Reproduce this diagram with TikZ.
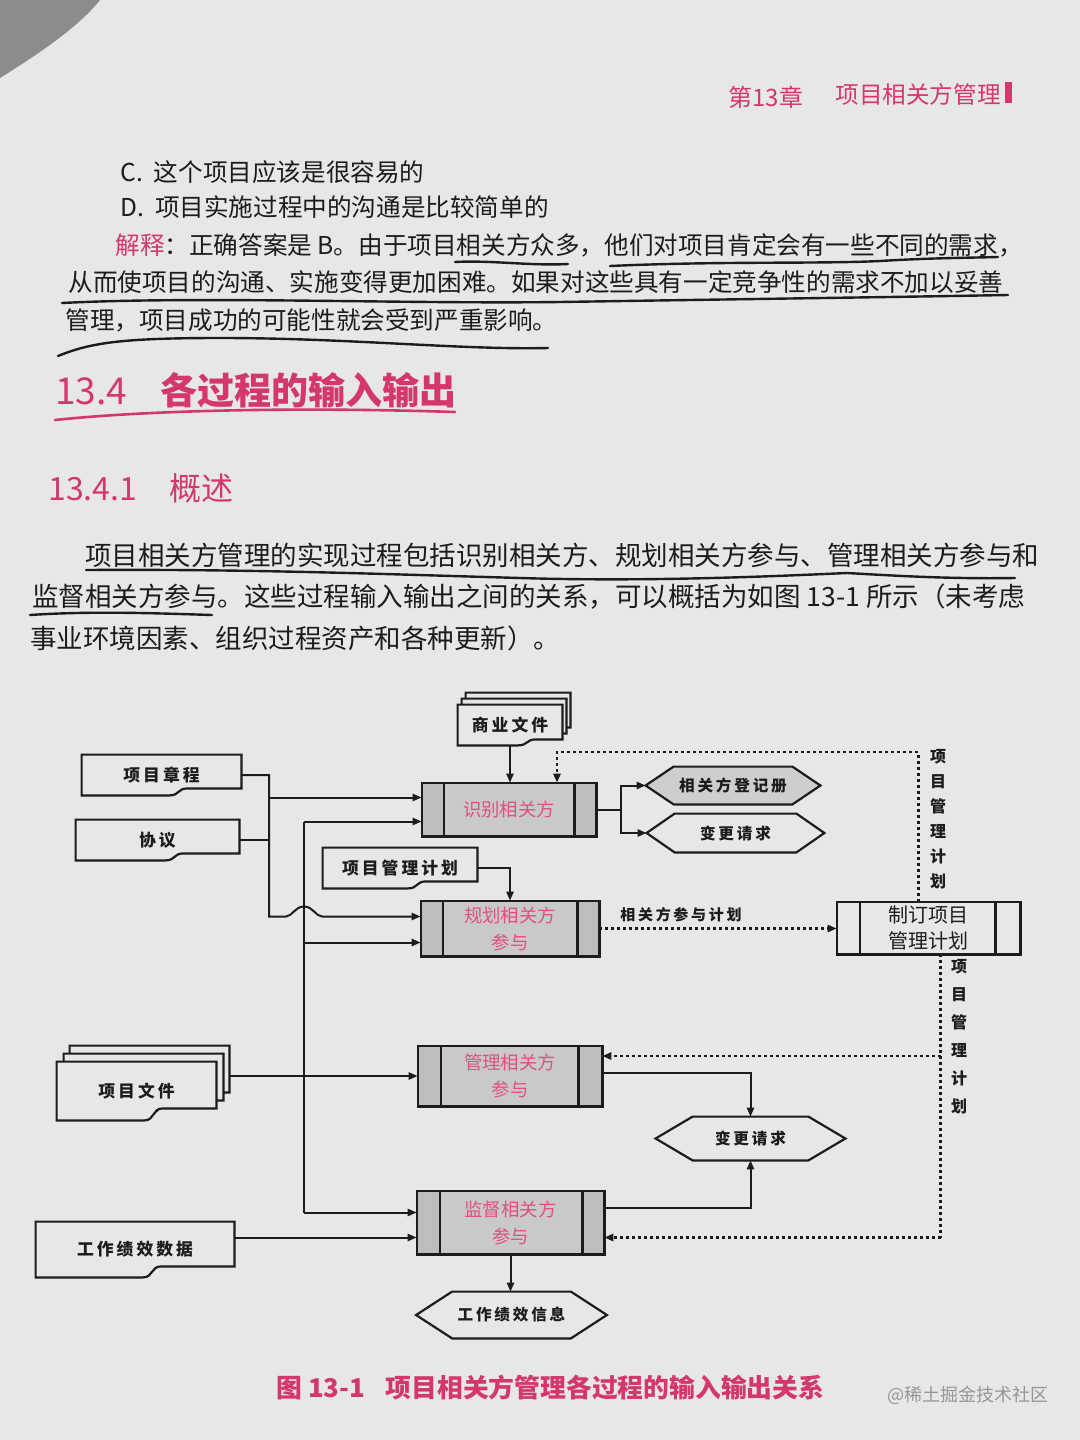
\documentclass[tikz,border=0pt]{standalone}
\usepackage{fontspec}
\setmainfont{Noto Sans CJK SC}
\newfontfamily\lsfont[LetterSpace=18]{Noto Sans CJK SC}
\usetikzlibrary{arrows.meta,calc}
\definecolor{paper}{RGB}{231,231,229}
\definecolor{pinkh}{RGB}{212,55,110}
\definecolor{pinkl}{RGB}{224,80,126}
\definecolor{ink}{RGB}{28,28,28}
\definecolor{procmid}{RGB}{201,201,200}
\definecolor{procside}{RGB}{189,189,188}
\definecolor{hexfill}{RGB}{206,206,205}
\definecolor{wmark}{RGB}{150,150,150}
\definecolor{cornerdark}{RGB}{140,140,140}
\pgfdeclarelayer{paperlayer}
\pgfdeclarelayer{shapelayer}
\pgfsetlayers{paperlayer,shapelayer,main}
\newcommand\fsz[2]{\fontsize{#1}{#2}\selectfont}
% document shape: #1 node, #2 rise of right bottom, #3 dx, #4 dy
\newcommand\docshape[4]{%
  \draw[shp,fill=paper] ($(#1.north west)+({#3},{#4})$) -- ($(#1.north east)+({#3},{#4})$)
    -- ($(#1.south east)+({#3},{#4-#2})$) -- ($(#1.south)+({#3+26},{#4-#2})$)
    .. controls ($(#1.south)+({#3+16},{#4-#2})$) and ($(#1.south)+({#3+18},{#4})$) .. ($(#1.south)+({#3+8},{#4})$)
    -- ($(#1.south west)+({#3},{#4})$) -- cycle;}
% process shape: #1 node, #2 mid fill, #3 side fill, #4 left strip, #5 right strip
\newcommand\procshape[5]{%
  \fill[#2] (#1.north west) rectangle (#1.south east);
  \fill[#3] (#1.north west) rectangle ($(#1.south west)+(#4,0)$);
  \fill[#3] ($(#1.north east)+(-#5,0)$) rectangle (#1.south east);
  \draw[shp] (#1.north west) rectangle (#1.south east);
  \draw[shp] ($(#1.north west)+(#4,0)$) -- ($(#1.south west)+(#4,0)$);
  \draw[shp] ($(#1.north east)+(-#5,0)$) -- ($(#1.south east)+(-#5,0)$);}
% hexagon: #1 node, #2 fill, #3 tip length
\newcommand\hexshape[3]{%
  \draw[shp,fill=#2] (#1.west) -- ($(#1.north west)+(#3,0)$) -- ($(#1.north east)+(-#3,0)$)
    -- (#1.east) -- ($(#1.south east)+(-#3,0)$) -- ($(#1.south west)+(#3,0)$) -- cycle;}
\tikzset{
  shp/.style={draw=ink,line width=1.1pt,line join=miter},
  ln/.style={draw=ink,line width=1pt},
  arr/.style={ln,-{Triangle[length=4.5pt,width=3.6pt]}},
  dln/.style={draw=ink,line width=1.2pt,dash pattern=on 1.4pt off 1.6pt},
  darr/.style={dln,-{Triangle[length=4.5pt,width=3.6pt]}},
  shapenode/.style={inner sep=0pt,align=center},
  doclbl/.style={shapenode,font=\lsfont\bfseries\fsz{8.4}{10},text=ink},
  hexlbl/.style={shapenode,font=\lsfont\bfseries\fsz{7.8}{9},text=ink},
  proclbl/.style={shapenode,font=\fsz{9.2}{13.5},text=pinkl},
  vlbl/.style={shapenode,font=\bfseries\fsz{8}{#1},text=ink},
  body/.style={anchor=west,inner sep=0pt,text=ink},
  pen/.style={draw=ink,line width=1.2pt,line cap=round},
}
\begin{document}
\begin{tikzpicture}[x=0.5pt,y=-0.5pt]
\useasboundingbox (0,0) rectangle (1080,1440);
\begin{pgfonlayer}{paperlayer}
  \fill[paper] (0,0) rectangle (1080,1440);
  \fill[cornerdark] (0,0) -- (100,0) .. controls (80,25) and (45,50) .. (0,78) -- cycle;
\end{pgfonlayer}

% ---------- running head ----------
\node[body,text=pinkh,font=\fsz{12}{14}] (hch) at (728,97) {第13章};
\node[body,text=pinkh,font=\fsz{11.8}{14}] (htitle) at (835,94) {项目相关方管理};
\fill[pinkh] (1005,82) rectangle (1012,103);

% ---------- question text ----------
\node[body,font=\fsz{12.3}{14}] (qc) at (120,172) {C.\ \ 这个项目应该是很容易的};
\node[body,font=\fsz{12.3}{14}] (qd) at (120,207) {D.\ \ 项目实施过程中的沟通是比较简单的};
\node[body,font=\fsz{12.3}{14}] (qe) at (115,245) {\textcolor{pinkh}{解释}：正确答案是 B。由于项目相关方众多，他们对项目肯定会有一些不同的需求，};
\node[body,font=\fsz{12.3}{14}] (qf) at (68,282) {从而使项目的沟通、实施变得更加困难。如果对这些具有一定竞争性的需求不加以妥善};
\node[body,font=\fsz{12.3}{14}] (qg) at (65,320) {管理，项目成功的可能性就会受到严重影响。};
\draw[pen] (455,262) .. controls (490,260) and (530,266) .. (568,264);
\draw[pen] (610,266) .. controls (720,261) and (820,264) .. (880,261) .. controls (930,258) and (960,258) .. (998,257);
\draw[pen] (62,303) .. controls (200,296) and (400,304) .. (560,302) .. controls (750,299) and (900,297) .. (1008,295);
\draw[pen] (58,356) .. controls (90,343) and (120,338) .. (220,338) .. controls (350,338) and (460,350) .. (548,348);

% ---------- headings ----------
\node[body,text=pinkh,font=\fsz{18.5}{20}] (h134) at (55,390) {13.4\hspace{0.9em}{\bfseries 各过程的输入输出}};
\draw[pinkh,line width=1.3pt,line cap=round] (55,420) .. controls (150,410) and (300,407) .. (455,412);
\node[body,text=pinkh,font=\fsz{16}{18}] (h1341) at (48,488) {13.4.1\hspace{1em}概述};

% ---------- paragraph ----------
\node[body,font=\fsz{13.25}{15}] (p1) at (85,555) {项目相关方管理的实现过程包括识别相关方、规划相关方参与、管理相关方参与和};
\node[body,font=\fsz{13.25}{15}] (p2) at (32,597) {监督相关方参与。这些过程输入输出之间的关系，可以概括为如图 13-1 所示（未考虑};
\node[body,font=\fsz{13.25}{15}] (p3) at (30,638) {事业环境因素、组织过程资产和各种更新）。};
\draw[pen] (86,570) .. controls (250,569) and (380,574) .. (520,578) .. controls (650,582) and (780,576) .. (847,573) .. controls (900,576) and (950,579) .. (1015,578);
\draw[pen] (30,615) .. controls (90,611) and (150,613) .. (212,615);

% ---------- diagram nodes ----------
\node[doclbl,minimum width=52pt,minimum height=20pt] (swj) at (510,725) {商业文件};
\node[doclbl,minimum width=79.5pt,minimum height=20pt] (xmzc) at (161.5,775) {项目章程};
\node[doclbl,minimum width=81.5pt,minimum height=20pt] (xy) at (157.5,840) {协议};
\node[doclbl,minimum width=77pt,minimum height=20pt] (xmgljh) at (400,868) {项目管理计划};
\node[doclbl,minimum width=79.5pt,minimum height=29pt] (xmwj) at (136.5,1091) {项目文件};
\node[doclbl,minimum width=99pt,minimum height=27.5pt] (gzjxsj) at (135,1249.5) {工作绩效数据};

\node[proclbl,minimum width=87pt,minimum height=26.5pt] (sb) at (509,809.5) {识别相关方};
\node[proclbl,minimum width=89pt,minimum height=27.5pt] (gh) at (510,928.5) {规划相关方\\参与};
\node[proclbl,minimum width=92pt,minimum height=30pt] (gl) at (510,1076) {管理相关方\\参与};
\node[proclbl,minimum width=93.5pt,minimum height=31.5pt] (jd) at (510.5,1222.5) {监督相关方\\参与};
\node[shapenode,minimum width=91.5pt,minimum height=26pt,font=\fsz{10}{13},text=ink] (zd) at (928.5,928) {制订项目\\管理计划};

\node[hexlbl,minimum width=87pt,minimum height=18.5pt] (djc) at (733,785.5) {相关方登记册};
\node[hexlbl,minimum width=88.5pt,minimum height=19pt] (bg1) at (735.5,833) {变更请求};
\node[hexlbl,minimum width=94.5pt,minimum height=21.5pt] (bg2) at (750.5,1138.5) {变更请求};
\node[hexlbl,minimum width=95pt,minimum height=23pt] (gzjxxx) at (511.5,1315) {工作绩效信息};

\node[hexlbl,font=\lsfont\bfseries\fsz{7.5}{9}] (lblplan) at (681,915) {相关方参与计划};
\node[vlbl=12.5] (vl1) at (938,819) {项\\目\\管\\理\\计\\划};
\node[vlbl=14] (vl2) at (959,1037) {项\\目\\管\\理\\计\\划};

% ---------- caption & watermark ----------
\node[body,text=pinkh,font=\bfseries\fsz{12.9}{14}] (cap) at (276,1388) {图 13-1\hspace{0.8em}项目相关方管理各过程的输入输出关系};
\node[body,text=wmark,font=\fsz{9}{10}] (wm) at (887,1395) {@稀土掘金技术社区};

% ---------- shapes (behind texts) ----------
\begin{pgfonlayer}{shapelayer}
  \docshape{swj}{6}{8}{-12}
  \docshape{swj}{6}{4}{-6}
  \docshape{swj}{6}{0}{0}
  \docshape{xmzc}{7}{0}{0}
  \docshape{xy}{7}{0}{0}
  \docshape{xmgljh}{7}{0}{0}
  \docshape{xmwj}{12}{13}{-16}
  \docshape{xmwj}{12}{7}{-8}
  \docshape{xmwj}{12}{0}{0}
  \docshape{gzjxsj}{11}{0}{0}
  \procshape{sb}{procmid}{procside}{22}{22}
  \procshape{gh}{procmid}{procside}{22}{22}
  \procshape{gl}{procmid}{procside}{23}{24}
  \procshape{jd}{procmid}{procside}{23}{22}
  \procshape{zd}{paper}{paper}{23}{25}
  \hexshape{djc}{hexfill}{28}
  \hexshape{bg1}{paper}{28}
  \hexshape{bg2}{paper}{37}
  \hexshape{gzjxxx}{paper}{36}
\end{pgfonlayer}

% ---------- connector helpers ----------
\coordinate (ax) at (269,0);
\coordinate (bx) at (304,0);
\coordinate (sbin1) at ($(sb.west)+(0,-12)$);
\coordinate (sbin2) at ($(sb.west)+(0,12)$);
\coordinate (ghin1) at ($(gh.west)+(0,-12)$);
\coordinate (ghin2) at ($(gh.west)+(0,14)$);
\coordinate (jdin1) at ($(jd.west)+(0,-10)$);
\coordinate (jdin2) at ($(jd.west)+(0,15)$);
\coordinate (xmwjr) at ($(xmwj.east)+(13,0)$);
\coordinate (sbfork) at ($(sb.east)+(25,0)$);
\coordinate (dtop) at (0,752);
\coordinate (sbt) at ($(sb.north)+(48,0)$);
\coordinate (zdt) at ($(zd.north)+(-10,0)$);
\coordinate (zdb) at ($(zd.south)+(12,0)$);
\coordinate (glr) at ($(gl.east)+(0,-20)$);
\coordinate (glo) at ($(gl.east)+(0,-3)$);
\coordinate (jdr) at ($(jd.east)+(0,15)$);
\coordinate (jdo) at ($(jd.east)+(0,-15)$);
\coordinate (hopL) at (286,916.5);
\coordinate (hopT) at (304,906.5);
\coordinate (hopR) at (322,916.5);

% ---------- connectors ----------
\draw[arr] (swj.south) -- (sb.north -| swj.south);
\draw[arr] (xmzc.east) -| (ax |- ghin1) -- (hopL) .. controls (292,916.5) and (295,906.5) .. (hopT) .. controls (313,906.5) and (316,916.5) .. (hopR) -- (ghin1);
\draw[arr] (ax |- sbin1) -- (sbin1);
\draw[ln] (xy.east) -- (xy.east -| ax);
\draw[ln] (bx |- sbin2) -- (bx |- jdin1);
\draw[arr] (bx |- sbin2) -- (sbin2);
\draw[arr] (bx |- ghin2) -- (ghin2);
\draw[arr] (bx |- jdin1) -- (jdin1);
\draw[arr] (xmwjr |- gl.west) -- (gl.west);
\draw[arr] (gzjxsj.east |- jdin2) -- (jdin2);
\draw[arr] (xmgljh.east) -| (gh.north);
\draw[ln] (sb.east) -- (sbfork);
\draw[arr] (sbfork) |- (djc.west);
\draw[arr] (sbfork) |- (bg1.west);
\draw[darr] (gh.east) -- (gh.east -| zd.west);
\draw[darr] (zdt) |- (sbt |- dtop) -- (sbt);
\draw[dln] (zdb) -- (zdb |- jdr);
\draw[darr] (zdb |- glr) -- (glr);
\draw[darr] (zdb |- jdr) -- (jdr);
\draw[arr] (glo) -| (bg2.north);
\draw[arr] (jdo) -| (bg2.south);
\draw[arr] (jd.south) -- (gzjxxx.north -| jd.south);
\end{tikzpicture}
\end{document}
